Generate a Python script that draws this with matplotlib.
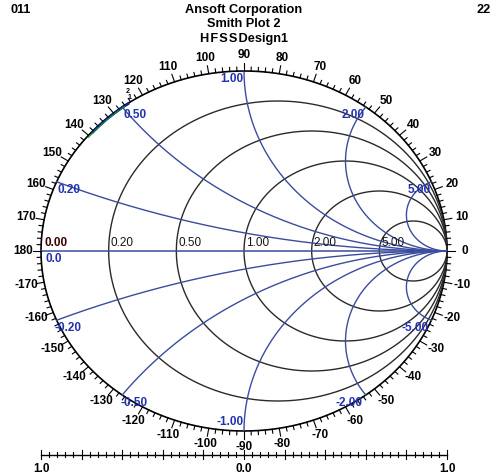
import numpy as np
import matplotlib
matplotlib.use("Agg")
import matplotlib.pyplot as plt

plt.rcParams['font.family'] = ['Liberation Sans', 'DejaVu Sans']

# chart values
resistances = [0.2, 0.5, 1.0, 2.0, 5.0]
r_labels = ["0.20", "0.50", "1.00", "2.00", "5.00"]
reactances = [0.2, 0.5, 1.0, 2.0, 5.0, -0.2, -0.5, -1.0, -2.0, -5.0]
x_labels = ["0.20", "0.50", "1.00", "2.00", "5.00", "-0.20", "-0.50", "-1.00", "-2.00", "-5.00"]
angle_ticks = list(range(-170, 190, 10))
scale_labels = ["1.0", "0.0", "1.0"]
scale_pos = [-1.0, 0.0, 1.0]

# traces (angle in degrees, magnitude)
trace1_ang = [124.5, 127.0, 130.0, 133.0, 136.0, 139.0]
trace1_mag = [0.998, 0.998, 0.997, 0.997, 0.996, 0.996]
trace2_ang = [126.0, 129.0, 132.0, 135.0, 138.0, 140.5]
trace2_mag = [0.995, 0.995, 0.994, 0.994, 0.993, 0.993]

# pixel geometry of the ellipse
CX, CY, RX, RY = 244, 251, 203, 180
W, H = 499, 475

fig = plt.figure(figsize=(W / 100, H / 100), dpi=100)
ax = fig.add_axes([0, 0, 1, 1])
ax.set_xlim(-CX / RX, (W - CX) / RX)
ax.set_ylim((CY - H) / RY, CY / RY)
ax.axis('off')

BLUE = '#3b4c9e'
BLUE_TXT = '#2233b0'
GRID = '#2a2a2a'
FS = 8.5


def px(dx, dy):
    """ pixel offset -> data offset (dy positive = up) """
    return dx / RX, dy / RY


def gamma(z):
    return (z - 1) / (z + 1)


# outer circle
t = np.linspace(0, 2 * np.pi, 721)
ax.plot(np.cos(t), np.sin(t), color='black', lw=1.2)

# resistance circles
for r in resistances:
    c = r / (1 + r)
    rad = 1 / (1 + r)
    ax.plot(c + rad * np.cos(t), rad * np.sin(t), color=GRID, lw=1.0)

# reactance arcs
s = np.linspace(0, np.pi / 2 - 1e-4, 800)
for x in reactances:
    g = gamma(np.tan(s) + 1j * x)
    ax.plot(g.real, g.imag, color=BLUE, lw=1.0)
ax.plot([-1, 1], [0, 0], color=BLUE, lw=1.1)

# traces
g1 = np.array(trace1_mag) * np.exp(1j * np.radians(trace1_ang))
g2 = np.array(trace2_mag) * np.exp(1j * np.radians(trace2_ang))
ax.plot(g1.real, g1.imag, color='#0a1f8f', lw=2.0, solid_capstyle='butt')
ax.plot(g2.real, g2.imag, color='#1a8a2a', lw=0.8)

# marker labels
m = np.exp(1j * np.radians(trace1_ang[0]))
ox, oy = px(0, 2)
ax.text(m.real + ox, m.imag + oy, "1", fontsize=5, fontweight='bold', ha='center', va='bottom')
ox, oy = px(-1, 8)
ax.text(m.real + ox, m.imag + oy, "2", fontsize=5, fontweight='bold', ha='center', va='bottom')

# ticks around the outer circle
for a in range(-180, 180, 2):
    th = np.radians(a)
    L = 8 if a % 10 == 0 else 4
    dx, dy = px(L * np.cos(th), L * np.sin(th))
    ax.plot([np.cos(th), np.cos(th) + dx], [np.sin(th), np.sin(th) + dy], color='black', lw=0.8)

for a in angle_ticks:
    th = np.radians(a)
    ax.text(1.09 * np.cos(th), 1.09 * np.sin(th), str(a), fontsize=FS, fontweight='bold',
            ha='center', va='center')

# resistance labels
for r, lab in zip(resistances, r_labels):
    gx = (r - 1) / (r + 1)
    ox, oy = px(2, 2)
    ax.text(gx + ox, oy, lab, fontsize=FS, color='#151515', ha='left', va='bottom')
ox, oy = px(3, 2)
ax.text(-1 + ox, oy, "0.00", fontsize=FS, fontweight='bold', color='#3a0000', ha='left', va='bottom')
ox, oy = px(4, -2)
ax.text(-1 + ox, oy, "0.0", fontsize=FS, fontweight='bold', color=BLUE_TXT, ha='left', va='top')

# reactance labels at the rim
for x, lab in zip(reactances, x_labels):
    g = gamma(1j * x)
    if x == -1.0:
        ox, oy = px(0, 3)
        ax.text(g.real + ox, g.imag + oy, lab, fontsize=FS, fontweight='bold', color=BLUE_TXT,
                ha='right', va='bottom')
    elif g.real < -0.01:
        ox, oy = px(1 if x > 0 else -2, -2)
        ax.text(g.real + ox, g.imag + oy, lab, fontsize=FS, fontweight='bold', color=BLUE_TXT,
                ha='left', va='top')
    else:
        ox, oy = px(-1 if x > 0 else -3, -2)
        ax.text(g.real + ox, g.imag + oy, lab, fontsize=FS, fontweight='bold', color=BLUE_TXT,
                ha='right', va='top')

# bottom linear scale
sy = (CY - 455) / RY
ax.plot([-1, 1], [sy, sy], color='black', lw=1.0)
for i in range(51):
    xv = -1 + i * 0.04
    if i % 5 == 0:
        lo, hi = px(0, -4)[1], px(0, 5)[1]
    else:
        lo, hi = px(0, -2)[1], px(0, 3)[1]
    ax.plot([xv, xv], [sy + lo, sy + hi], color='black', lw=0.8)
for xv, lab in zip(scale_pos, scale_labels):
    ax.text(xv, sy + px(0, -8)[1], lab, fontsize=FS, fontweight='bold', ha='center', va='top')

# header text
ax.text(0, (CY - 10) / RY, "Ansoft Corporation", fontsize=9.2, fontweight='bold', ha='center', va='center')
ax.text(0, (CY - 24) / RY, "Smith Plot 2", fontsize=9.2, fontweight='bold', ha='center', va='center')
ax.text(0, (CY - 39) / RY, "H\u200aF\u200aS\u200aS\u200aDesign1", fontsize=9.2, fontweight='bold',
        ha='center', va='center')
ax.text((10 - CX) / RX, (CY - 10) / RY, "011", fontsize=9.2, fontweight='bold', ha='left', va='center')
ax.text((491 - CX) / RX, (CY - 10) / RY, "22", fontsize=9.2, fontweight='bold', ha='right', va='center')

fig.savefig("out.png", dpi=100)
